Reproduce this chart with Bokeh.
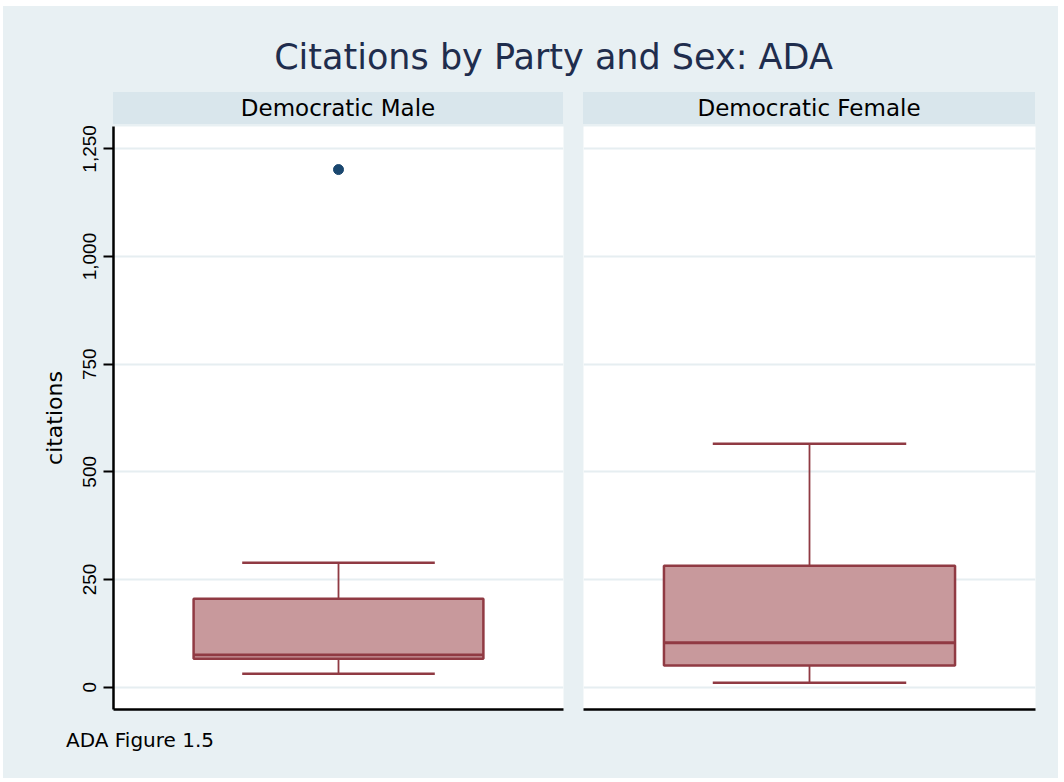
from bokeh.plotting import figure
from bokeh.models import Div, Range1d, FixedTicker, NumeralTickFormatter, ColumnDataSource
from bokeh.layouts import column, row
from bokeh.embed import file_html
from bokeh.resources import INLINE

# ---- data ----
groups = ["Democratic Male", "Democratic Female"]
lower_whisker = [31, 10]
q1 = [66, 50]
median = [75, 103]
q3 = [205, 282]
upper_whisker = [289, 565]
outliers = [[1202], []]
y_ticks = [0, 250, 500, 750, 1000, 1250]

BG = "#E8F0F3"
STRIP = "#D9E6EC"
BOX_FILL = "#C8999C"
BOX_LINE = "#903A43"
NAVY = "#1A476F"

Y0, Y1 = -52, 1302
BOX_HALF = 0.322
CAP_HALF = 0.214


def make_panel(i, width, left, right, with_yaxis):
    p = figure(width=width, height=590, output_backend="svg", toolbar_location=None,
               x_range=Range1d(0, 1), y_range=Range1d(Y0, Y1),
               y_axis_location="left" if with_yaxis else None,
               min_border_left=left, min_border_right=right,
               min_border_top=2, min_border_bottom=5, margin=0)
    p.background_fill_color = "white"
    p.border_fill_color = BG
    p.outline_line_color = None
    p.xgrid.visible = False
    p.ygrid.ticker = FixedTicker(ticks=y_ticks)
    p.ygrid.grid_line_color = "#E6EEF1"
    p.ygrid.grid_line_width = 2

    xa = p.xaxis[0]
    xa.ticker = FixedTicker(ticks=[])
    xa.major_tick_out = 0
    xa.major_tick_in = 0
    xa.minor_tick_out = 0
    xa.minor_tick_in = 0
    xa.major_label_standoff = 0
    xa.axis_line_width = 2.5
    xa.axis_line_color = "black"

    if with_yaxis:
        ya = p.yaxis[0]
        ya.ticker = FixedTicker(ticks=y_ticks)
        ya.formatter = NumeralTickFormatter(format="0,0")
        ya.major_label_orientation = "vertical"
        ya.major_label_text_font = "Liberation Sans"
        ya.major_label_text_font_size = "19px"
        ya.major_label_text_color = "black"
        ya.major_label_standoff = 7
        ya.major_tick_out = 10
        ya.major_tick_in = 0
        ya.major_tick_line_width = 2
        ya.minor_tick_out = 0
        ya.minor_tick_in = 0
        ya.axis_line_width = 2.5
        ya.axis_line_color = "black"
        ya.axis_label = "citations"
        ya.axis_label_text_font = "DejaVu Sans"
        ya.axis_label_text_font_style = "normal"
        ya.axis_label_text_font_size = "22px"
        ya.axis_label_text_color = "black"
        ya.axis_label_standoff = 14

    src = ColumnDataSource(dict(x=[0.5], lw=[lower_whisker[i]], q1=[q1[i]], med=[median[i]],
                                q3=[q3[i]], uw=[upper_whisker[i]],
                                bl=[0.5 - BOX_HALF], br=[0.5 + BOX_HALF],
                                cl=[0.5 - CAP_HALF], cr=[0.5 + CAP_HALF]))
    # whiskers
    p.segment(x0="x", y0="q3", x1="x", y1="uw", source=src, line_color=BOX_LINE, line_width=1.8)
    p.segment(x0="x", y0="lw", x1="x", y1="q1", source=src, line_color=BOX_LINE, line_width=1.8)
    # caps
    p.segment(x0="cl", y0="uw", x1="cr", y1="uw", source=src, line_color=BOX_LINE, line_width=2.5)
    p.segment(x0="cl", y0="lw", x1="cr", y1="lw", source=src, line_color=BOX_LINE, line_width=2.5)
    # box
    p.vbar(x="x", width=2 * BOX_HALF, bottom="q1", top="q3", source=src,
           fill_color=BOX_FILL, line_color=BOX_LINE, line_width=2.5)
    # median
    p.segment(x0="bl", y0="med", x1="br", y1="med", source=src, line_color=BOX_LINE, line_width=2.8)
    # outliers
    if outliers[i]:
        p.scatter(x=[0.5] * len(outliers[i]), y=outliers[i], size=10,
                  fill_color=NAVY, line_color=NAVY)
    return p


pL = make_panel(0, 570, 110, 10, True)
pR = make_panel(1, 485, 10, 23, False)

title_div = Div(width=1055, height=86, margin=0,
                text="<div style=\"height:33px\"></div>Citations by Party and Sex: ADA",
                styles={"text-align": "center", "font-family": "DejaVu Sans", "font-size": "35px",
                        "line-height": "36px", "color": "#1F2D4D", "white-space": "nowrap",
                        "text-indent": "46px"})


def strip(label, w):
    return Div(width=w, height=32, margin=0, text=label,
               styles={"background-color": STRIP, "text-align": "center",
                       "font-family": "DejaVu Sans", "font-size": "23px",
                       "line-height": "32px", "color": "black", "white-space": "nowrap"})


spacer_a = Div(width=110, height=32, text="", margin=0)
spacer_b = Div(width=20, height=32, text="", margin=0)
strip_row = row(spacer_a, strip(groups[0], 450), spacer_b, strip(groups[1], 452), spacing=0, margin=0)

foot_div = Div(width=1055, height=64, margin=0,
               text="<div style=\"height:14px\"></div>ADA Figure 1.5",
               styles={"text-align": "left", "font-family": "DejaVu Sans",
                       "font-size": "20px", "line-height": "24px", "color": "black",
                       "white-space": "nowrap", "text-indent": "63px"})

root = column(title_div, strip_row, row(pL, pR, spacing=0, margin=0), foot_div, spacing=0,
              margin=(6, 6, 4, 3), styles={"background-color": BG})

open("out.html", "w").write(file_html(root, INLINE))
